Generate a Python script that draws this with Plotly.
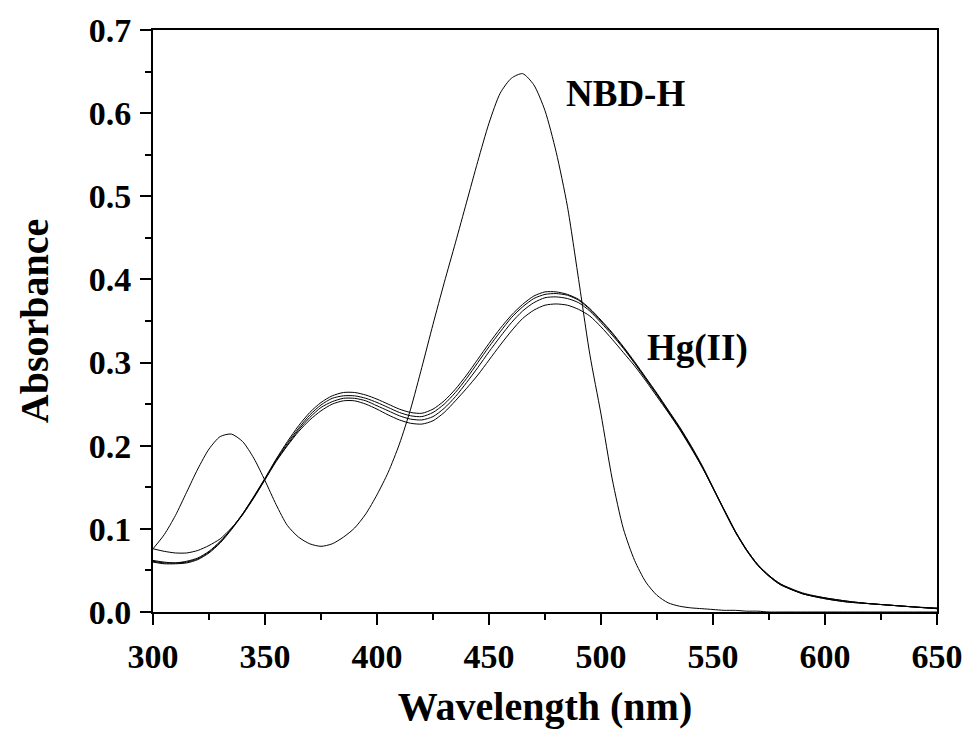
import plotly.graph_objects as go

wavelength = [300, 305, 310, 315, 320, 325, 330, 335, 340, 345, 350, 355, 360, 365, 370,
              375, 380, 385, 390, 395, 400, 405, 410, 415, 420, 425, 430, 435, 440, 445,
              450, 455, 460, 465, 470, 475, 480, 485, 490, 495, 500, 505, 510, 515, 520,
              525, 530, 535, 540, 545, 550, 555, 560, 565, 570, 575, 580, 590, 600, 610,
              620, 630, 640, 650]

nbd_h = [0.076, 0.093, 0.116, 0.144, 0.172, 0.196, 0.211, 0.214, 0.205, 0.185, 0.158,
         0.129, 0.104, 0.090, 0.082, 0.079, 0.082, 0.090, 0.101, 0.118, 0.141, 0.168,
         0.202, 0.244, 0.294, 0.346, 0.396, 0.444, 0.493, 0.542, 0.588, 0.624, 0.642,
         0.6475, 0.634, 0.603, 0.553, 0.488, 0.400, 0.310, 0.238, 0.160, 0.100, 0.062,
         0.036, 0.020, 0.011, 0.007, 0.005, 0.004, 0.003, 0.002, 0.002, 0.001, 0.001,
         0.000, 0.000, 0.000, 0.000, 0.000, 0.000, 0.000, 0.000, 0.000]

hg_1 = [0.062, 0.060, 0.059, 0.060, 0.064, 0.072, 0.084, 0.100, 0.118, 0.139, 0.161,
        0.184, 0.205, 0.224, 0.240, 0.252, 0.260, 0.264, 0.264, 0.261, 0.256, 0.250,
        0.244, 0.240, 0.239, 0.244, 0.254, 0.268, 0.285, 0.304, 0.323, 0.341, 0.357,
        0.370, 0.380, 0.385, 0.385, 0.382, 0.376, 0.365, 0.351, 0.336, 0.319, 0.301,
        0.282, 0.263, 0.243, 0.223, 0.201, 0.177, 0.150, 0.123, 0.097, 0.075, 0.057,
        0.044, 0.034, 0.022, 0.017, 0.013, 0.010, 0.008, 0.006, 0.004]

hg_2 = [0.060, 0.058, 0.058, 0.059, 0.063, 0.071, 0.083, 0.099, 0.117, 0.138, 0.160,
        0.183, 0.203, 0.221, 0.237, 0.249, 0.257, 0.260, 0.260, 0.257, 0.252, 0.246,
        0.240, 0.236, 0.235, 0.240, 0.250, 0.264, 0.281, 0.300, 0.319, 0.337, 0.354,
        0.367, 0.377, 0.382, 0.383, 0.381, 0.375, 0.364, 0.350, 0.335, 0.318, 0.300,
        0.281, 0.262, 0.242, 0.222, 0.200, 0.176, 0.149, 0.122, 0.096, 0.074, 0.056,
        0.043, 0.033, 0.022, 0.016, 0.012, 0.010, 0.008, 0.006, 0.004]

hg_3 = [0.061, 0.059, 0.059, 0.061, 0.065, 0.073, 0.085, 0.100, 0.118, 0.138, 0.160,
        0.182, 0.201, 0.219, 0.234, 0.246, 0.253, 0.257, 0.257, 0.254, 0.248, 0.242,
        0.236, 0.232, 0.231, 0.235, 0.245, 0.259, 0.276, 0.294, 0.313, 0.331, 0.348,
        0.362, 0.372, 0.378, 0.379, 0.377, 0.372, 0.362, 0.348, 0.333, 0.317, 0.299,
        0.280, 0.261, 0.241, 0.221, 0.199, 0.175, 0.149, 0.122, 0.096, 0.074, 0.056,
        0.043, 0.033, 0.022, 0.016, 0.012, 0.010, 0.008, 0.006, 0.004]

hg_4 = [0.076, 0.073, 0.071, 0.071, 0.074, 0.080, 0.088, 0.101, 0.117, 0.137, 0.159,
        0.181, 0.200, 0.217, 0.231, 0.242, 0.250, 0.254, 0.254, 0.250, 0.244, 0.237,
        0.231, 0.227, 0.226, 0.230, 0.240, 0.254, 0.269, 0.285, 0.303, 0.321, 0.338,
        0.353, 0.363, 0.369, 0.3705, 0.369, 0.364, 0.356, 0.343, 0.328, 0.312, 0.296,
        0.278, 0.259, 0.240, 0.220, 0.198, 0.175, 0.149, 0.123, 0.097, 0.075, 0.057,
        0.044, 0.034, 0.023, 0.017, 0.013, 0.010, 0.008, 0.006, 0.005]

series = [nbd_h, hg_1, hg_2, hg_3, hg_4]

labels = ["NBD-H", "Hg(II)"]
label_x = [511, 543]
label_y = [0.624, 0.318]

x_ticks = [300, 350, 400, 450, 500, 550, 600, 650]
y_ticks = [0.0, 0.1, 0.2, 0.3, 0.4, 0.5, 0.6, 0.7]

FONT = "Liberation Serif"

fig = go.Figure()
for ys in series:
    fig.add_trace(go.Scatter(x=wavelength, y=ys, mode="lines",
                             line=dict(color="black", width=1, shape="spline", smoothing=0.7),
                             showlegend=False, hoverinfo="skip"))

for t, xx, yy in zip(labels, label_x, label_y):
    fig.add_annotation(x=xx, y=yy, xref="x", yref="y", text="<b>" + t + "</b>",
                       showarrow=False, font=dict(family=FONT, size=37, color="black"))

axis_common = dict(showgrid=False, zeroline=False, showline=True, linewidth=2,
                   linecolor="black", mirror=True, ticks="outside", ticklen=11,
                   tickwidth=2, tickcolor="black",
                   tickfont=dict(family=FONT, size=34, color="black", weight="bold"))

fig.update_xaxes(range=[300, 650], tickvals=x_ticks, ticktext=[str(v) for v in x_ticks],
                 minor=dict(ticks="outside", ticklen=6, tickwidth=2, tickcolor="black", dtick=25),
                 title=dict(text="<b>Wavelength (nm)</b>", font=dict(family=FONT, size=40, color="black"),
                            standoff=18),
                 ticklabelstandoff=2,
                 **axis_common)
fig.update_yaxes(range=[0, 0.7], tickvals=y_ticks, ticktext=[f"{v:.1f}" for v in y_ticks],
                 minor=dict(ticks="outside", ticklen=6, tickwidth=2, tickcolor="black", dtick=0.05),
                 title=dict(text="<b>Absorbance</b>", font=dict(family=FONT, size=40, color="black"),
                            standoff=28),
                 ticklabelstandoff=2,
                 **axis_common)

fig.update_layout(width=975, height=733, margin=dict(l=153, r=29, t=29, b=117),
                  paper_bgcolor="white", plot_bgcolor="white")

fig.write_html("out.html")
